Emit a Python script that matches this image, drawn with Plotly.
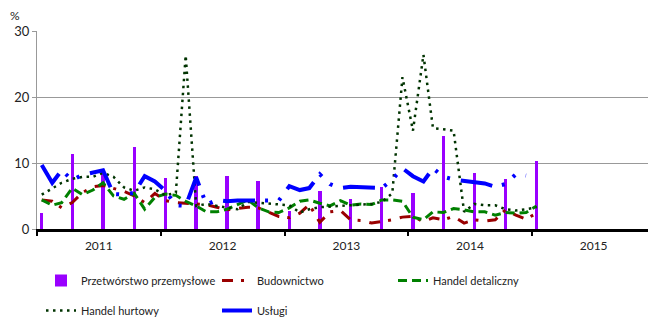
import pandas as pd
import plotly.graph_objects as go

# ---- data (monthly, Jan 2011 - Jan 2015) ----
months = pd.date_range("2011-01-01", periods=49, freq="MS") + pd.Timedelta(days=14)
quarters = months[::3]

przetworstwo = [2.4, 11.4, 8.8, 12.4, 7.7, 8.1, 8.1, 7.3, 2.8, 5.8, 4.6, 6.4, 5.5,
                14.1, 8.5, 7.6, 10.3]

budownictwo = [4.4, 4.2, 3.2, 4.0, 5.5, 6.4, 6.6, 6.2, 5.7, 5.0, 4.0, 5.4, 4.3, 4.0,
               3.9, 3.8, 3.7, 3.3, 2.9, 3.1, 3.3, 3.2, 2.6, 1.9, 1.7, 2.4, 3.7, 1.0,
               2.6, 2.8, 1.4, 1.3, 0.9, 1.1, 1.4, 1.8, 1.9, 1.1, 1.7, 1.4, 1.9, 0.9,
               1.4, 1.2, 1.4, 2.9, 2.1, 1.5, 2.4]

handel_detaliczny = [4.4, 3.6, 4.0, 6.2, 5.2, 5.9, 7.0, 5.0, 4.5, 5.4, 3.0, 4.8, 5.3,
                     5.1, 4.2, 3.5, 2.6, 2.6, 3.0, 3.7, 4.4, 3.2, 2.6, 2.5, 3.2, 4.2,
                     4.4, 3.9, 3.5, 4.3, 3.6, 3.8, 3.7, 4.4, 4.4, 4.2, 1.8, 1.4, 2.6,
                     2.5, 3.1, 2.9, 2.6, 2.6, 2.1, 2.5, 2.4, 2.5, 3.5]

handel_hurtowy = [5.2, 6.1, 7.0, 7.6, 7.9, 7.9, 8.5, 7.9, 6.3, 5.8, 6.3, 6.0, 5.1, 5.5,
                  26.3, 3.5, 3.8, 3.5, 3.2, 3.0, 4.1, 4.0, 3.8, 3.7, 3.6, 2.5, 3.0,
                  3.3, 3.4, 3.5, 3.6, 3.7, 3.8, 4.1, 5.4, 23.0, 14.9, 26.4, 15.3,
                  15.1, 14.9, 2.6, 3.8, 3.6, 3.6, 3.0, 2.8, 3.0, 3.3]

uslugi = [9.7, 7.0, 8.9, 7.4, 8.2, 8.5, 8.9, 5.3, 5.2, 5.5, 8.0, 7.2, 5.8, 3.6, 3.5,
          7.8, 3.7, 4.4, 4.2, 4.3, 4.3, 4.2, 4.2, 4.3, 6.5, 5.9, 6.2, 8.3, 6.8, 6.2,
          6.4, 6.3, 6.2, 6.2, 7.5, 9.2, 8.0, 7.2, 9.2, 7.9, 7.5, 7.3, 7.2, 6.9, 6.4,
          6.8, 8.3, 8.1, None]

year_ticks_start = "2011-01-01"

FONT = "Lato"

fig = go.Figure()

fig.add_trace(go.Bar(
    x=quarters, y=przetworstwo, name="Przetwórstwo przemysłowe",
    marker=dict(color="#9900FF", line=dict(width=0)),
    width=10 * 86400000, legend="legend",
))
fig.add_trace(go.Scatter(
    x=months, y=budownictwo, name="Budownictwo", mode="lines",
    line=dict(color="#990000", width=3, dash="11px,8px,3px,9px"), legend="legend",
))
fig.add_trace(go.Scatter(
    x=months, y=handel_detaliczny, name="Handel detaliczny", mode="lines",
    line=dict(color="#008000", width=3, dash="9px,5px"), legend="legend",
))
fig.add_trace(go.Scatter(
    x=months, y=handel_hurtowy, name="Handel hurtowy", mode="lines",
    line=dict(color="#003300", width=2.5, dash="2.5px,4.5px"), legend="legend2",
))
fig.add_trace(go.Scatter(
    x=months, y=uslugi, name="Usługi", mode="lines",
    line=dict(color="#0000FF", width=4, dash="32px,10px,3px,11px,3px,11px"),
    legend="legend2",
))

legend_common = dict(orientation="h", xref="container", yref="container",
                     xanchor="left", yanchor="top", entrywidth=131,
                     font=dict(family=FONT, size=11, color="#222"),
                     bgcolor="rgba(0,0,0,0)")

fig.update_layout(
    width=648, height=318,
    margin=dict(l=37, r=0, t=31, b=89, autoexpand=False),
    paper_bgcolor="white", plot_bgcolor="white",
    font=dict(family=FONT, size=12, color="#222"),
    showlegend=True,
    bargap=0,
    legend=dict(x=41 / 648, y=1 - 266 / 318, **legend_common),
    legend2=dict(x=41 / 648, y=1 - 296 / 318, **legend_common),
    xaxis=dict(
        type="date", range=["2011-01-01", "2015-12-10"], automargin=False,
        tick0=year_ticks_start, dtick="M12", tickformat="%Y", ticklabelmode="period",
        ticks="outside", ticklen=4, tickwidth=2, tickcolor="black",
        showline=True, linecolor="black", linewidth=3,
        showgrid=False, zeroline=False,
        tickfont=dict(size=12, color="#222"),
    ),
    yaxis=dict(
        range=[0, 30], dtick=10, tick0=0, automargin=False,
        showgrid=True, gridcolor="#999999", gridwidth=1,
        showline=True, linecolor="#999999", linewidth=1,
        ticks="outside", ticklen=4, tickcolor="#999999",
        zeroline=False, tickfont=dict(size=13, color="#222"),
    ),
    annotations=[dict(text="%", xref="paper", yref="paper", x=-0.036, y=1.08,
                      yanchor="middle", xanchor="center", showarrow=False,
                      font=dict(size=12, color="#222"))],
)

fig.write_html("out.html", config={"displayModeBar": False},
               post_script="document.body.style.margin='0';")
